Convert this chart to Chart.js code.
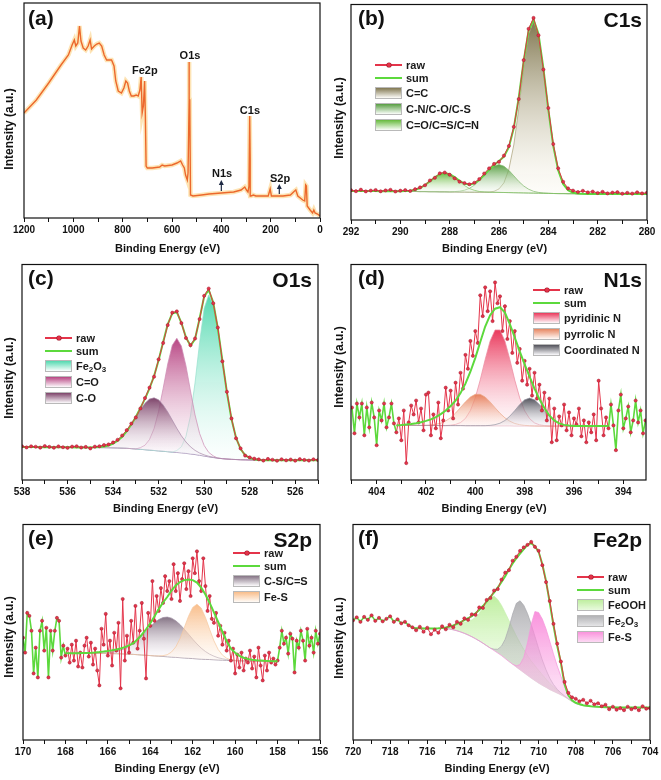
<!DOCTYPE html>
<html lang="en">
<head>
<meta charset="UTF-8">
<meta name="viewport" content="width=device-width, initial-scale=1.0">
<title>XPS spectra (a)-(f)</title>
<script src="https://cdn.jsdelivr.net/npm/chart.js"></script>
<style>
  body { margin: 0; background: #fff; }
  #fig { position: relative; width: 661px; height: 780px; overflow: hidden; background: #fff;
         font-family: "Liberation Sans", Arial, sans-serif; }
  .panel { position: absolute; height: 260px; }
  .panel canvas { position: absolute; left: 0; top: 0; }
  .abs { position: absolute; white-space: nowrap; }
  .tag { font-weight: bold; font-size: 21px; line-height: 21px; color: #111; }
  .ytitle { font-weight: bold; font-size: 12px; line-height: 14px; color: #111; width: 140px; height: 14px;
            text-align: center; transform: rotate(-90deg); }
  .xtitle { font-weight: bold; font-size: 11px; line-height: 13px; color: #111; width: 160px; text-align: center; }
  .leg { font-weight: bold; font-size: 11px; line-height: 13px; color: #1a1a1a; }
  sub { font-size: 8px; line-height: 0; vertical-align: -2px; }
</style>
</head>
<body>
<div id="fig"></div>
<script>
// ---------- (a) survey ----------
const surveyE = [1200,1150,1100,1050,1020,1005,996,990,982,975,969,960,950,940,932,926,915,905,895,885,
  875,865,855,845,835,828,818,805,795,787,780,773,765,755,745,737,730,725,721,716,711,708,705,700,680,
  650,640,630,600,580,565,557,550,545,538,535,531,530,528,525,515,480,450,400,350,320,305,298,292,288,
  285,283,280,270,260,240,210,202,197,180,150,120,103,98,90,80,70,62,58,55,52,40,30,25,20,10,0];
const surveyI = [105,118,135,153,163,173,178,172,175,192,177,170,168,172,178,169,172,174,175,172,
  163,158,158,158,152,137,127,125,130,137,135,127,122,122,123,122,128,141,105,112,137,102,52,50,50,
  51,53,52,53,55,57,53,50,43,38,45,118,156,118,23,22,23,24,25,26,28,31,28,26,32,
  102,58,22,23,22,22,22,29,22,22,22,23,27,28,22,20,18,17,33,32,12,8,5,8,5,4,2];
const surveyPeaks = ['Fe2p', 'O1s', 'C1s', 'N1s', 'S2p'];
const surveyPeakE = [710, 527, 284, 397, 162];
const surveyPeakH = [147, 162, 107, 44, 39];
const arrowE = [400, 165];
const arrowTop = [38, 34];
const arrowBot = [27, 24];

// ---------- (b) C1s : grid 292 -> 280, step 0.2 ----------
const c1sBg = [29.3,29.3,29.2,29.2,29.1,29.1,29.0,29.0,28.9,28.9,28.8,
  28.8,28.7,28.7,28.6,28.6,28.5,28.5,28.4,28.4,28.3,
  28.3,28.2,28.2,28.1,28.1,28.0,28.0,27.9,27.9,27.8,
  27.7,27.6,27.5,27.4,27.3,27.2,27.1,27.0,26.9,26.8,
  26.7,26.6,26.6,26.5,26.5,26.4,26.4,26.3,26.3,26.3,
  26.2,26.2,26.2,26.2,26.2,26.2,26.2,26.2,26.2,26.2];
const c1sSum = [29.3,29.3,29.2,29.2,29.1,29.1,29.0,29.0,28.9,28.9,
  28.9,29.1,29.4,30.5,32.2,35.2,39.0,43.1,46.2,47.4,
  46.2,43.2,39.5,36.6,35.5,36.9,40.2,45.3,50.7,55.4,
  59.3,63.9,73.4,92.6,123.2,159.9,190.7,201.9,187.5,152.8,
  111.2,74.8,50.0,36.3,30.0,27.5,26.7,26.4,26.3,26.3,
  26.3,26.2,26.2,26.2,26.2,26.2,26.2,26.2,26.2,26.2,26.2];
const c1sRaw = [30.0,29.0,30.5,28.8,29.6,30.2,28.9,29.8,30.4,28.7,
  29.5,30.1,29.2,31.0,32.8,35.0,39.8,42.5,47.0,47.8,
  45.6,42.0,38.6,37.2,36.0,37.5,41.2,46.8,52.0,56.5,
  58.6,64.8,74.5,93.8,121.8,161.0,192.5,203.5,186.0,151.5,
  112.8,76.5,52.0,38.5,31.8,29.6,28.2,29.4,27.8,28.6,
  27.2,28.4,26.8,27.6,28.0,26.5,27.4,26.6,27.9,26.8,27.5];
const c1sCC = [0.3,1.0,3.5,9.7,23.4,48.1,84.3,125.6,159.7,173,159.7,125.6,84.3,48.1,23.4,9.7,3.5,1.0,0.3];
const c1sCCFrom = 286.4;
const c1sCN = [0.1,0.3,0.8,1.8,3.8,7,11.5,17,22.4,26.5,28,26.5,22.4,17,11.5,7,3.8,1.8,0.8,0.3,0.1];
const c1sCNFrom = 288.0;
const c1sCO = [0.1,0.3,0.7,1.8,3.6,6.6,10.5,14.6,17.8,19,17.8,14.6,10.5,6.6,3.6,1.8,0.7,0.3,0.1];
const c1sCOFrom = 290.0;

// ---------- (c) O1s : grid 538 -> 525, step 0.2 ----------
const o1sBg = [33.3,33.3,33.2,33.2,33.1,33.1,33.0,33.0,33.0,32.9,
  32.9,32.9,32.8,32.8,32.8,32.7,32.7,32.6,32.6,32.5,
  32.4,32.3,32.1,31.9,31.6,31.3,30.9,30.5,30.1,29.7,
  29.3,28.9,28.5,28.1,27.7,27.3,26.8,26.2,25.6,24.9,
  24.1,23.3,22.6,22.0,21.5,21.1,20.8,20.6,20.4,20.3,
  20.2,20.1,20.1,20.0,20.0,20.0,20.0,20.0,20.0,20.0,
  20.0,20.0,20.0,20.0,20.0,20.0];
const o1sSum = [33.3,33.3,33.2,33.2,33.1,33.1,33.0,33.0,33.0,32.9,
  32.9,32.9,32.8,32.8,32.8,32.7,33.0,33.2,33.8,34.8,
  36.6,39.5,43.6,49.1,55.9,63.5,72.6,81.7,92.2,104.7,
  120.6,139.0,156.8,167.9,169.0,158.3,143.6,135.1,141.9,162.6,
  184.8,191.4,178.8,152.6,120.4,88.1,61.4,42.6,31.2,25.0,
  22.0,20.8,20.1,20.0,20.0,20.0,20.0,20.0,20.0,20.0,
  20.0,20.0,20.0,20.0,20.0,20.0];
const o1sRaw = [34.0,32.8,33.9,33.5,32.6,34.2,33.4,32.5,33.8,33.0,
  32.4,33.6,34.0,32.7,33.3,31.8,33.6,34.0,35.2,35.8,
  37.8,40.5,44.8,50.2,56.8,63.0,72.0,82.5,93.0,104.0,
  121.5,138.0,156.0,168.5,169.8,158.0,143.0,135.8,142.5,162.0,
  185.5,192.8,178.0,153.5,119.5,88.8,62.0,42.0,31.8,24.6,
  22.8,21.5,20.8,19.6,21.2,20.4,19.4,20.9,19.8,20.6,
  19.5,21.0,20.2,19.6,20.8,20.1];
const o1sFe2O3 = [2.0,6.2,17.0,38.3,72.2,113.4,148.8,163,154.2,130.6,98.9,67.0,40.6,22.0,10.8,4.7,1.8,0.7];
const o1sFe2O3From = 531.2;
const o1sCdO = [1.7,4.5,10.7,22.0,39.9,63.4,88.3,107.6,115,107.6,88.3,63.4,39.9,22.0,10.7,4.5,1.7];
const o1sCdOFrom = 532.8;
const o1sCO = [0.3,0.6,1.2,2.3,4.2,7.2,11.5,17.2,24.3,32.2,40.0,46.7,51.4,53,51.4,46.7,40.0,32.2,24.3,17.2,
  11.5,7.2,4.2,2.3,1.2,0.6,0.3];
const o1sCOFrom = 534.8;

// ---------- (d) N1s : fit grid 403.2 -> 394.6, step 0.2; raw 405.0 -> 393.1, step 0.1 ----------
const n1sFit = [394.6, 403.2];
const n1sBg = [55.0,55.0,55.0,55.0,55.0,54.9,54.9,54.9,54.9,54.8,54.8,54.8,54.8,54.8,54.7,54.7,54.7,54.7,54.7,
  54.6,54.6,54.6,54.6,54.6,54.5,54.5,54.5,54.5,54.5,54.4,54.4,54.4,54.4,54.4,54.4,
  54.3,54.3,54.3,54.3,54.3,54.3,54.3,54.3,54.3];
const n1sSum = [55,55.3,55.8,56.4,57.2,58.2,59.5,61.0,63.3,66.3,
  70.0,74.5,80.0,87.5,97.0,109.0,123.0,139.0,154.5,166.0,
  172.5,174.0,168.5,157.0,143.5,129.5,116.5,104.0,92.0,81.5,
  72.5,65.0,60.0,57.0,55.5,54.8,54.5,54.4,54.3,54.3,
  54.3,54.3,54.3,54.3];
const n1sRaw = [73,47,77,63,77,45,73,53,78,63,35,70,60,77,53,63,77,57,
  48,62,40,70,17,58,75,66,80,58,
  72,50,86,88,45,66,52,78,42,60,
  93,70,90,62,98,76,108,92,126,112,
  140,125,150,138,186,165,194,170,190,160,
  199,178,185,150,175,142,160,128,150,118,
  132,100,120,96,112,85,108,82,96,70,
  88,60,82,38,72,40,64,55,76,50,
  68,45,62,56,72,44,60,38,58,48,
  66,40,100,72,45,63,52,
  76,55,30,70,86,52,62,74,48,60,80,58,70,47,60];
const n1sPyridinic = [0.4,1.2,3.0,7.3,15.2,28.2,46.1,66.7,85.4,96.5,96.5,85.4,66.7,46.1,28.2,15.2,7.3,3.0,1.2,0.4];
const n1sPyridinicFrom = 401.0;
const n1sPyrrolic = [0.2,0.5,1.2,2.4,4.6,8.0,12.6,18.2,24.0,28.9,31.6,31.6,28.9,24.0,18.2,12.6,8.0,4.6,2.4,1.2,0.5,0.2];
const n1sPyrrolicFrom = 402.0;
const n1sCoord = [0.4,1.1,2.6,5.3,9.7,15.4,21.5,26.2,28,26.2,21.5,15.4,9.7,5.3,2.6,1.1,0.4];
const n1sCoordFrom = 399.4;

// ---------- (e) S2p : fit grid 168 -> 158, step 0.2; raw 170.0 -> 156.0, step 0.1 ----------
const s2pFit = [158.0, 168.0];
const s2pBg = [87.3,87.3,87.3,87.3,87.3,87.3,87.3,87.3,87.2,87.2,87.1,87.0,86.9,86.8,86.6,86.4,
  86.2,85.9,85.6,85.3,85.0,84.7,84.4,84.1,83.8,83.5,83.2,82.9,82.6,82.3,82.0,81.7,81.4,81.2,81.0,
  80.8,80.6,80.4,80.2,80.0,79.9,79.8,79.7,79.6,79.5,79.5,79.4,79.4,79.3,79.3,79.3];
const s2pSum = [87.3,87.3,87.3,87.4,87.5,87.6,87.8,88.1,88.5,89.0,
  89.6,90.3,91.1,92.2,93.5,95.2,97.5,101.5,106.0,111.5,
  117.5,124.5,131.8,138.5,144.0,150.5,155.5,159.0,161.0,161.7,
  161.0,158.5,153.5,146.5,138.0,128.5,119.0,109.0,99.5,92.0,
  87.8,84.8,82.8,81.6,80.8,80.3,80.0,79.7,79.5,79.4,79.3];
const s2pRaw = [103,88,128,125,110,67,93,63,110,120,90,113,63,110,90,110,123,120,83,95,
  85,92,78,96,80,100,74,88,73,95,
  103,84,98,76,92,70,55,112,96,127,
  85,100,75,108,90,118,52,142,80,105,
  88,120,98,135,92,110,138,102,62,128,
  115,160,120,145,130,153,138,165,150,160,
  142,177,150,168,140,162,178,152,170,145,
  183,168,190,160,150,183,155,130,145,122,
  118,128,105,115,96,108,90,100,80,92,
  67,86,73,88,70,82,78,90,72,84,
  63,93,75,60,85,70,88,78,82,76,
  80,93,110,97,103,87,107,102,68,100,93,110,100,80,112,95,103,88,110,97,107];
const s2pCS = [0.4,0.8,1.4,2.2,3.6,5.4,7.9,11.1,15.0,19.5,24.3,29.0,33.4,36.9,39.2,40,39.2,36.9,33.4,29.0,
  24.3,19.5,15.0,11.1,7.9,5.4,3.6,2.2,1.4,0.8,0.4];
const s2pCSFrom = 166.2;
const s2pFeS = [0.3,0.8,2.1,5.1,10.5,19.1,30.3,42.2,51.5,55,51.5,42.2,30.3,19.1,10.5,5.1,2.1,0.8,0.3];
const s2pFeSFrom = 163.6;

// ---------- (f) Fe2p : fit grid 716.8 -> 704, step 0.2; raw 720 -> 704, step 0.2 ----------
const fe2pFit = [704, 716.8];
const fe2pBg = [112.7,112.6,112.5,112.4,112.3,112.3,112.3,112.3,112.3,112.2,
  111.8,111.0,110.0,108.8,107.4,105.8,104.0,102.0,99.8,97.5,
  95.0,92.5,90.0,87.5,85.0,82.0,79.0,76.0,73.0,70.2,
  67.5,64.7,62.0,59.5,57.0,54.7,52.5,50.4,48.5,46.7,
  45.0,43.0,41.0,38.8,36.8,
  35.5,34.7,34.2,33.8,33.5,33.3,33.1,33.0,32.9,32.8,32.8,
  32.8,32.7,32.7,32.7,32.7,32.7,32.7,32.7,32.7];
const fe2pSum = [112.7,112.6,112.5,112.4,112.3,112.3,112.4,112.6,112.9,113.3,
  114.2,115.4,116.9,118.7,120.6,122.6,124.8,127.6,130.9,134.9,
  139.3,144.0,148.7,153.5,159.2,165.0,171.6,177.7,183.2,187.8,
  192.2,196.5,198.2,195.0,189.5,177.0,160.0,138.0,115.5,95.0,
  77.5,56.0,45.0,40.0,37.5,36.2,35.0,34.5,34.0,33.7,
  33.4,33.2,33.1,33.0,32.9,32.8,32.8,32.7,32.7,32.7,
  32.7,32.7,32.7,32.7,32.7];
const fe2pRaw = [120.5,123.5,119.0,124.0,121.0,125.5,120.0,123.0,119.5,122.0,
  124.5,119.0,121.5,117.5,119.0,115.5,113.5,110.5,114.0,109.0,
  113.0,106.5,111.0,108.0,114.5,111.5,116.0,113.5,119.0,117.0,
  122.5,121.0,126.5,126.0,133.5,133.0,141.0,143.0,150.5,152.0,
  161.5,168.5,171.0,180.5,184.5,190.5,194.0,196.5,199.5,194.5,
  190.5,176.0,159.0,140.0,117.0,97.0,79.0,58.5,47.5,43.0,
  41.5,39.0,40.5,37.0,39.5,36.0,37.0,34.0,35.5,31.0,
  33.5,30.5,32.0,30.0,33.5,31.0,32.5,30.0,34.0,31.5,32.0];
const fe2pFeOOH = [0.5,1.2,2.5,4.0,6.0,9.1,11,13.5,16.9,21.5,27.5,35.2,44,51.0,55,
  53.9,50.6,46.2,41.3,36.3,31.7,27.5,23.7,20.4,17.6,15.4,13.2,11,8.8,6.6,5.0,3.3,2.2,1.1];
const fe2pFeOOHFrom = 715.2;
const fe2pFe2O3 = [1.4,3.9,9.5,19.5,34.1,50.8,64.6,70,68.1,62.7,54.5,44.9,35.1,25.8,18.1,11.9,7.4,4.4,2.5,1.3,0.6];
const fe2pFe2O3From = 712.4;
const fe2pFeS = [0.4,1.7,5.8,15.6,33.0,54.4,69.8,71.4,67.1,59.3,49.1,38.2,28.0,19.2,11,3.5,1.5,0.5];
const fe2pFeSFrom = 711.4;

// ---------- styles ----------
const RED = '#e4344a', REDDARK = '#a3182c', GREEN = '#5cd93c';
Chart.defaults.font.family = '"Liberation Sans", Arial, sans-serif';

function grid(start, step, n) {
  return Array.from({length: n}, (_, i) => Math.round((start - step * i) * 100) / 100);
}
function series(xs, ys) {
  return xs.map((x, i) => ({x: x, y: ys[i]})).sort((p, q) => p.x - q.x);
}
function peak(xs, bg, vals, from) {
  const k = xs.findIndex(x => Math.abs(x - from) < 1e-6);
  return xs.map((x, i) => ({x: x, y: bg[i] + (i >= k && i < k + vals.length ? vals[i - k] : 0)}))
           .sort((p, q) => p.x - q.x);
}
function shade(xs, bg, vals, from, st) {
  const k = xs.findIndex(x => Math.abs(x - from) < 1e-6);
  let m = 0, j = 0;
  vals.forEach((v, i) => { if (v > m) { m = v; j = i; } });
  const base = bg[k + j], top = base + m;
  return ctx => {
    const ch = ctx.chart;
    if (!ch.chartArea) return st.c0;
    const y = ch.scales.y;
    const g = ch.ctx.createLinearGradient(0, y.getPixelForValue(top), 0, y.getPixelForValue(base));
    g.addColorStop(0, st.c0);
    g.addColorStop(1, st.c1);
    return g;
  };
}
function compSet(xs, bg, vals, from, st, order) {
  return { data: peak(xs, bg, vals, from), fill: 0, backgroundColor: shade(xs, bg, vals, from, st),
           borderColor: st.line, borderWidth: 0.8, pointRadius: 0, order: order };
}
function bgSet(xs, bg, color) {
  return { data: series(xs, bg), borderColor: color, borderWidth: 1, pointRadius: 0, fill: false, order: 20 };
}
function sumSet(xs, ys, order) {
  return { data: series(xs, ys), borderColor: GREEN, borderWidth: 2, pointRadius: 0, fill: false, order: order };
}
function rawSet(xs, ys, fit, order) {
  const ds = { data: series(xs, ys), borderColor: RED, borderWidth: 1, pointRadius: 1.6,
               pointBackgroundColor: RED, pointBorderColor: REDDARK, pointBorderWidth: 0.5, fill: false, order: order };
  if (fit) {
    const inside = v => v >= fit[0] - 1e-6 && v <= fit[1] + 1e-6;
    const ok = c => inside(c.p0.parsed.x) && inside(c.p1.parsed.x);
    ds.segment = { borderColor: c => ok(c) ? RED : GREEN, borderWidth: c => ok(c) ? 1 : 1.6 };
  }
  return ds;
}

const frame = {
  id: 'frame',
  afterDatasetsDraw(chart) {
    const c = chart.ctx, a = chart.chartArea;
    c.save();
    c.strokeStyle = '#111';
    c.lineWidth = 1.2;
    c.strokeRect(a.left, a.top, a.right - a.left, a.bottom - a.top);
    c.restore();
  }
};

const surveyNotes = {
  id: 'surveyNotes',
  afterDatasetsDraw(chart) {
    const c = chart.ctx, x = chart.scales.x, y = chart.scales.y;
    c.save();
    c.fillStyle = '#151515';
    c.font = 'bold 11px "Liberation Sans", Arial, sans-serif';
    c.textAlign = 'center';
    c.textBaseline = 'middle';
    surveyPeaks.forEach((t, i) => c.fillText(t, x.getPixelForValue(surveyPeakE[i]), y.getPixelForValue(surveyPeakH[i])));
    c.strokeStyle = '#1e2a44';
    c.fillStyle = '#1e2a44';
    c.lineWidth = 1.2;
    arrowE.forEach((e, i) => {
      const px = x.getPixelForValue(e), y0 = y.getPixelForValue(arrowBot[i]), y1 = y.getPixelForValue(arrowTop[i]);
      c.beginPath(); c.moveTo(px, y0); c.lineTo(px, y1 + 4); c.stroke();
      c.beginPath(); c.moveTo(px, y1); c.lineTo(px - 2.5, y1 + 5); c.lineTo(px + 2.5, y1 + 5); c.closePath(); c.fill();
    });
    c.restore();
  }
};

const fig = document.getElementById('fig');

function el(parent, cls, html, style) {
  const d = document.createElement('div');
  d.className = cls;
  if (html) d.innerHTML = html;
  Object.keys(style).forEach(k => { d.style[k] = typeof style[k] === 'number' ? style[k] + 'px' : style[k]; });
  parent.appendChild(d);
  return d;
}

function panel(left, top, w) {
  return el(fig, 'panel', '', {left: left, top: top, width: w});
}

// xr = [min, max, minor step, labelled step]
function plot(pnl, w, area, xr, ymax, datasets, extra) {
  const cv = document.createElement('canvas');
  cv.width = w; cv.height = 260;
  pnl.appendChild(cv);
  return new Chart(cv, {
    type: 'line',
    data: { datasets: datasets },
    options: {
      responsive: false, animation: false, events: [], devicePixelRatio: 1,
      layout: { padding: { left: area[0], top: area[1], right: w - area[2], bottom: 0 } },
      plugins: { legend: { display: false }, tooltip: { enabled: false } },
      scales: {
        x: {
          type: 'linear', reverse: true, bounds: 'data', min: xr[0], max: xr[1],
          afterBuildTicks: s => {
            const t = [];
            for (let v = Math.ceil(xr[0] / xr[2] - 1e-9) * xr[2]; v <= xr[1] + 1e-9; v += xr[2]) {
              t.push({value: Math.round(v * 100) / 100});
            }
            s.ticks = t;
          },
          afterFit: s => { s.height = 260 - area[3]; },
          border: { display: false },
          grid: { drawOnChartArea: false, drawTicks: true, tickLength: 4, color: '#111', lineWidth: 1 },
          ticks: {
            autoSkip: false, maxRotation: 0, padding: 2, color: '#111',
            font: { size: 10, weight: 'bold' },
            callback: v => (Math.abs(v / xr[3] - Math.round(v / xr[3])) < 1e-6 ? String(Math.round(v)) : '')
          }
        },
        y: { display: false, min: 0, max: ymax }
      }
    },
    plugins: [frame].concat(extra || [])
  });
}

function texts(pnl, w, area, tag, name, ycy) {
  el(pnl, 'abs tag', tag, {left: 28, top: 7});
  if (name) el(pnl, 'abs tag', name, {right: w - 312, top: 9});
  el(pnl, 'abs ytitle', 'Intensity (a.u.)', {left: 9 - 70, top: ycy - 7});
  el(pnl, 'abs xtitle', 'Binding Energy (eV)', {left: (area[0] + area[2]) / 2 - 4.5 - 80, top: 248 - 6.5});
}

function legend(pnl, x, y, items) {
  items.forEach((it, k) => {
    const yc = k === 0 ? y : k === 1 ? y + 13 : y + 28 + (k - 2) * 16;
    if (it.kind === 'raw') {
      el(pnl, 'abs', '', {left: x, top: yc - 0.7, width: 27, height: 1.4, background: RED});
      el(pnl, 'abs', '', {left: x + 11.5, top: yc - 2, width: 4, height: 4, borderRadius: '50%',
                          background: RED, boxShadow: '0 0 0 0.6px ' + REDDARK});
    } else if (it.kind === 'sum') {
      el(pnl, 'abs', '', {left: x, top: yc - 1, width: 27, height: 2, background: GREEN});
    } else {
      el(pnl, 'abs', '', {left: x, top: yc - 6, width: 27, height: 12, boxSizing: 'border-box',
                          border: '1px solid #b9b9b9',
                          background: 'linear-gradient(to bottom, ' + it.st.c0 + ', ' + it.st.c1 + ')'});
    }
    el(pnl, 'abs leg', it.label, {left: x + 31, top: yc - 6.5});
  });
}

// ---------- (a) ----------
(function () {
  const w = 330, area = [24, 3, 320, 218];
  const p = panel(0, 0, w);
  plot(p, w, area, [0, 1200, 100, 200], 215, [
    { data: series(surveyE, surveyI), borderColor: 'rgba(252,205,120,0.55)', borderWidth: 4.5, pointRadius: 0, fill: false, order: 2 },
    { data: series(surveyE, surveyI), borderColor: 'rgb(236,104,44)', borderWidth: 1.4, pointRadius: 0, fill: false, order: 1 }
  ], [surveyNotes]);
  texts(p, w, area, '(a)', '', 129);
})();

// ---------- (b) ----------
(function () {
  const w = 331, area = [21, 3, 317, 220];
  const p = panel(330, 0, w);
  const xs = grid(292, 0.2, c1sBg.length);
  const st = {
    cc: {c0: 'rgba(118,108,66,0.92)', c1: 'rgba(250,246,232,0.25)', line: 'rgba(170,160,120,0.9)'},
    cn: {c0: 'rgba(70,148,46,0.9)', c1: 'rgba(236,246,232,0.25)', line: 'rgba(130,185,110,0.9)'},
    co: {c0: 'rgba(86,178,40,0.9)', c1: 'rgba(238,248,232,0.25)', line: 'rgba(130,195,100,0.9)'}
  };
  plot(p, w, area, [280, 292, 1, 2], 217, [
    bgSet(xs, c1sBg, 'rgba(140,175,120,0.8)'),
    compSet(xs, c1sBg, c1sCC, c1sCCFrom, st.cc, 9),
    compSet(xs, c1sBg, c1sCN, c1sCNFrom, st.cn, 8),
    compSet(xs, c1sBg, c1sCO, c1sCOFrom, st.co, 7),
    sumSet(xs, c1sSum, 2),
    rawSet(xs, c1sRaw, null, 1)
  ]);
  texts(p, w, area, '(b)', 'C1s', 118);
  legend(p, 45, 65, [
    {kind: 'raw', label: 'raw'}, {kind: 'sum', label: 'sum'},
    {kind: 'fill', label: 'C=C', st: st.cc},
    {kind: 'fill', label: 'C-N/C-O/C-S', st: st.cn},
    {kind: 'fill', label: 'C=O/C=S/C=N', st: st.co}
  ]);
})();

// ---------- (c) ----------
(function () {
  const w = 330, area = [22, 3, 318, 220];
  const p = panel(0, 260, w);
  const xs = grid(538, 0.2, o1sBg.length);
  const st = {
    fe: {c0: 'rgba(60,212,165,0.88)', c1: 'rgba(236,252,248,0.25)', line: 'rgba(150,225,205,0.9)'},
    cdo: {c0: 'rgba(176,50,118,0.9)', c1: 'rgba(250,236,245,0.25)', line: 'rgba(205,140,180,0.9)'},
    co: {c0: 'rgba(112,48,90,0.9)', c1: 'rgba(242,234,242,0.25)', line: 'rgba(170,140,170,0.9)'}
  };
  plot(p, w, area, [525, 538, 1, 2], 217, [
    bgSet(xs, o1sBg, '#a08cb4'),
    compSet(xs, o1sBg, o1sFe2O3, o1sFe2O3From, st.fe, 9),
    compSet(xs, o1sBg, o1sCdO, o1sCdOFrom, st.cdo, 8),
    compSet(xs, o1sBg, o1sCO, o1sCOFrom, st.co, 7),
    sumSet(xs, o1sSum, 2),
    rawSet(xs, o1sRaw, null, 1)
  ]);
  texts(p, w, area, '(c)', 'O1s', 118);
  legend(p, 45, 78, [
    {kind: 'raw', label: 'raw'}, {kind: 'sum', label: 'sum'},
    {kind: 'fill', label: 'Fe<sub>2</sub>O<sub>3</sub>', st: st.fe},
    {kind: 'fill', label: 'C=O', st: st.cdo},
    {kind: 'fill', label: 'C-O', st: st.co}
  ]);
})();

// ---------- (d) ----------
(function () {
  const w = 331, area = [21, 3, 316, 220];
  const p = panel(330, 260, w);
  const xs = grid(403.2, 0.2, n1sBg.length);
  const rx = grid(405.0, 0.1, n1sRaw.length);
  const st = {
    pyd: {c0: 'rgba(232,40,78,0.92)', c1: 'rgba(255,236,242,0.3)', line: 'rgba(235,140,160,0.9)'},
    pyr: {c0: 'rgba(228,118,76,0.88)', c1: 'rgba(255,240,232,0.3)', line: 'rgba(235,170,140,0.9)'},
    coo: {c0: 'rgba(58,58,68,0.88)', c1: 'rgba(240,238,245,0.3)', line: 'rgba(150,150,165,0.9)'}
  };
  plot(p, w, area, [393.08, 405.04, 1, 2], 217, [
    bgSet(xs, n1sBg, 'rgba(220,150,170,0.7)'),
    compSet(xs, n1sBg, n1sPyridinic, n1sPyridinicFrom, st.pyd, 9),
    compSet(xs, n1sBg, n1sPyrrolic, n1sPyrrolicFrom, st.pyr, 8),
    compSet(xs, n1sBg, n1sCoord, n1sCoordFrom, st.coo, 7),
    rawSet(rx, n1sRaw, n1sFit, 2),
    sumSet(xs, n1sSum, 1)
  ]);
  texts(p, w, area, '(d)', 'N1s', 107);
  legend(p, 203, 30, [
    {kind: 'raw', label: 'raw'}, {kind: 'sum', label: 'sum'},
    {kind: 'fill', label: 'pyridinic N', st: st.pyd},
    {kind: 'fill', label: 'pyrrolic N', st: st.pyr},
    {kind: 'fill', label: 'Coordinated N', st: st.coo}
  ]);
})();

// ---------- (e) ----------
(function () {
  const w = 330, area = [23, 3, 320, 220];
  const p = panel(0, 520, w);
  const xs = grid(168, 0.2, s2pBg.length);
  const rx = grid(170.0, 0.1, s2pRaw.length);
  const st = {
    cs: {c0: 'rgba(112,92,112,0.85)', c1: 'rgba(246,240,246,0.25)', line: 'rgba(160,145,165,0.9)'},
    fes: {c0: 'rgba(248,178,118,0.85)', c1: 'rgba(255,244,232,0.35)', line: 'rgba(245,200,160,0.9)'}
  };
  plot(p, w, area, [156, 170, 1, 2], 217, [
    bgSet(xs, s2pBg, '#a69aaa'),
    compSet(xs, s2pBg, s2pCS, s2pCSFrom, st.cs, 9),
    compSet(xs, s2pBg, s2pFeS, s2pFeSFrom, st.fes, 8),
    rawSet(rx, s2pRaw, s2pFit, 2),
    sumSet(xs, s2pSum, 1)
  ]);
  texts(p, w, area, '(e)', 'S2p', 117);
  legend(p, 233, 33, [
    {kind: 'raw', label: 'raw'}, {kind: 'sum', label: 'sum'},
    {kind: 'fill', label: 'C-S/C=S', st: st.cs},
    {kind: 'fill', label: 'Fe-S', st: st.fes}
  ]);
})();

// ---------- (f) ----------
(function () {
  const w = 331, area = [23, 3, 320, 220];
  const p = panel(330, 520, w);
  const xs = grid(716.8, 0.2, fe2pBg.length);
  const rx = grid(720, 0.2, fe2pRaw.length);
  const st = {
    feooh: {c0: 'rgba(182,236,146,0.88)', c1: 'rgba(214,246,194,0.55)', line: 'rgba(200,240,180,0.9)'},
    fe2o3: {c0: 'rgba(150,150,154,0.72)', c1: 'rgba(196,196,200,0.45)', line: 'rgba(170,170,175,0.9)'},
    fes: {c0: 'rgba(248,120,212,0.8)', c1: 'rgba(250,180,232,0.5)', line: 'rgba(245,150,220,0.9)'}
  };
  plot(p, w, area, [704, 720, 1, 2], 217, [
    bgSet(xs, fe2pBg, 'rgba(0,0,0,0)'),
    compSet(xs, fe2pBg, fe2pFeOOH, fe2pFeOOHFrom, st.feooh, 9),
    compSet(xs, fe2pBg, fe2pFe2O3, fe2pFe2O3From, st.fe2o3, 8),
    compSet(xs, fe2pBg, fe2pFeS, fe2pFeSFrom, st.fes, 7),
    sumSet(xs, fe2pSum, 2),
    rawSet(rx, fe2pRaw, fe2pFit, 1)
  ]);
  texts(p, w, area, '(f)', 'Fe2p', 118);
  legend(p, 247, 57, [
    {kind: 'raw', label: 'raw'}, {kind: 'sum', label: 'sum'},
    {kind: 'fill', label: 'FeOOH', st: st.feooh},
    {kind: 'fill', label: 'Fe<sub>2</sub>O<sub>3</sub>', st: st.fe2o3},
    {kind: 'fill', label: 'Fe-S', st: st.fes}
  ]);
})();
</script>
</body>
</html>
